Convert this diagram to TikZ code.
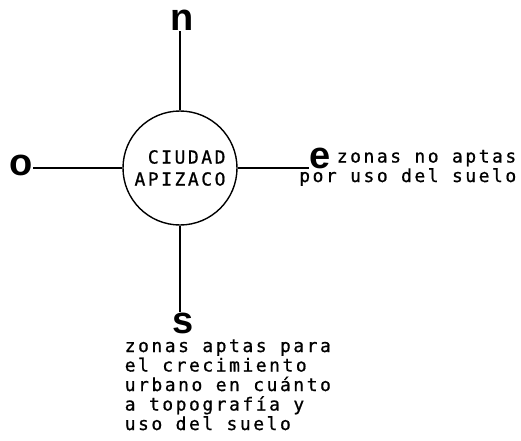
\documentclass[tikz,border=0pt]{standalone}
\usepackage{fontspec}
\newfontfamily\typefont[LetterSpace=14, FakeBold=0.8]{DejaVu Sans Mono}
\newfontfamily\dirfont{Liberation Sans}
\usetikzlibrary{calc}

\begin{document}
\begin{tikzpicture}[x=1pt, y=-1pt, line width=1.5pt,
  dirletter/.style={font=\dirfont\bfseries\fontsize{38}{38}\selectfont, inner sep=0pt, anchor=base},
  typetext/.style={font=\typefont\fontsize{18}{19.5}\selectfont, inner sep=0pt}]
\useasboundingbox (0,0) rectangle (521,440);
% city in the middle
\node[draw, line width=1.4pt, circle, minimum size=114pt, inner sep=0pt, typetext, align=right] (city) at (180,168) {CIUDAD\\[2.5pt]APIZACO};
% cardinal points
\node[dirletter] (n) at (182,30) {n};
\node[dirletter] (o) at (21,175) {o};
\node[dirletter] (e) at (320,168) {e};
\node[dirletter] (s) at (183,333) {s};
% arms
\draw (city.north) -- (city.north |- n.south);
\draw (city.west) -- (city.west -| o.east);
\draw (city.south) -- (city.south |- s.north);
\draw (city.east) -- (city.east -| e.west);
% notes
\node[typetext, anchor=base east, align=right] (eastnote) at (517,182) {zonas no aptas\\por uso del suelo};
\node[typetext, anchor=base west, align=left] (southnote) at (124,430) {zonas aptas para\\el crecimiento\\urbano en cuánto\\a topografía y\\uso del suelo};
\end{tikzpicture}
\end{document}
